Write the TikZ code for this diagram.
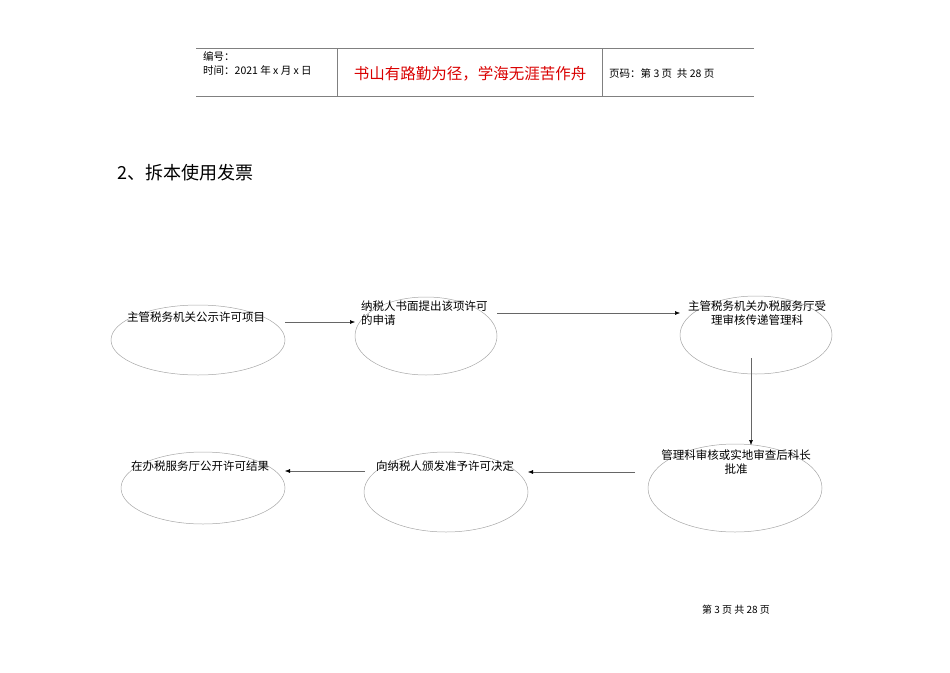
\documentclass[tikz,border=0pt]{standalone}
\usepackage{fontspec}
\setmainfont{Liberation Sans}
\newfontfamily\cjk{Noto Sans CJK SC}
\usetikzlibrary{arrows.meta}
\begin{document}
\begin{tikzpicture}[x=1pt,y=-1pt,
  ell/.style={draw=black!35,line width=0.5pt},
  lbl/.style={font=\cjk\fontsize{11.5}{14}\selectfont,inner sep=0pt},
  arr/.style={draw=black!60,line width=0.5pt,-{Latex[length=5pt,width=4pt,black]}},
  hdr/.style={inner sep=0pt,anchor=west}]
\useasboundingbox (0,0) rectangle (950,672);
% header
\draw[black!50,line width=0.8pt] (196,48) -- (754,48);
\draw[black!50,line width=0.8pt] (196,96) -- (754,96);
\draw[black!50,line width=0.8pt] (337,48) -- (337,96);
\draw[black!50,line width=0.8pt] (602,48) -- (602,96);
\node[hdr,font=\cjk\fontsize{10.5}{12}\selectfont] (h1) at (203,56) {编号：};
\node[hdr,font=\cjk\fontsize{10.5}{12}\selectfont] (h2) at (203,70) {时间：2021 年 x 月 x 日};
\node[inner sep=0pt,font=\cjk\fontsize{15.5}{17}\selectfont,text=red!85!black] (h3) at (470,74) {书山有路勤为径，学海无涯苦作舟};
\node[hdr,font=\cjk\fontsize{10.5}{12}\selectfont] (h4) at (609,73) {页码：第 3 页\ \ 共 28 页};
% title
\node[hdr,font=\cjk\fontsize{18}{20}\selectfont] (t) at (117,173) {2、拆本使用发票};
% ellipses
\draw[ell] (198,340) ellipse [x radius=87,y radius=35];
\draw[ell] (426,336) ellipse [x radius=71,y radius=39];
\draw[ell] (756,335) ellipse [x radius=76,y radius=39];
\draw[ell] (735,488) ellipse [x radius=87,y radius=44];
\draw[ell] (446,492) ellipse [x radius=82,y radius=40];
\draw[ell] (203,488) ellipse [x radius=82,y radius=36];
\node[lbl,anchor=west] (n1) at (127,317) {主管税务机关公示许可项目};
\node[lbl,anchor=north west,align=left] (n2) at (361,301) {纳税人书面提出该项许可\\的申请};
\node[lbl,anchor=north,align=center] (n3) at (757,301) {主管税务机关办税服务厅受\\理审核传递管理科};
\node[lbl,anchor=north,align=center] (n4) at (736,450) {管理科审核或实地审查后科长\\批准};
\node[lbl,anchor=west] (n5) at (376,466) {向纳税人颁发准予许可决定};
\node[lbl,anchor=west] (n6) at (131,466) {在办税服务厅公开许可结果};
% connectors
\coordinate (a1) at (285,322); \coordinate (b1) at (355,322);
\coordinate (a2) at (497,313); \coordinate (b2) at (680,313);
\coordinate (a3) at (751,358); \coordinate (b3) at (751,445);
\coordinate (a4) at (635,472); \coordinate (b4) at (528,472);
\coordinate (a5) at (365,471); \coordinate (b5) at (285,471);
\draw[arr] (a1) -- (b1);
\draw[arr] (a2) -- (b2);
\draw[arr] (a3) -- (b3);
\draw[arr] (a4) -- (b4);
\draw[arr] (a5) -- (b5);
% footer
\node[inner sep=0pt,font=\cjk\fontsize{10}{11}\selectfont] (f) at (736,610) {第\ 3\ 页\ 共\ 28\ 页};
\end{tikzpicture}
\end{document}
